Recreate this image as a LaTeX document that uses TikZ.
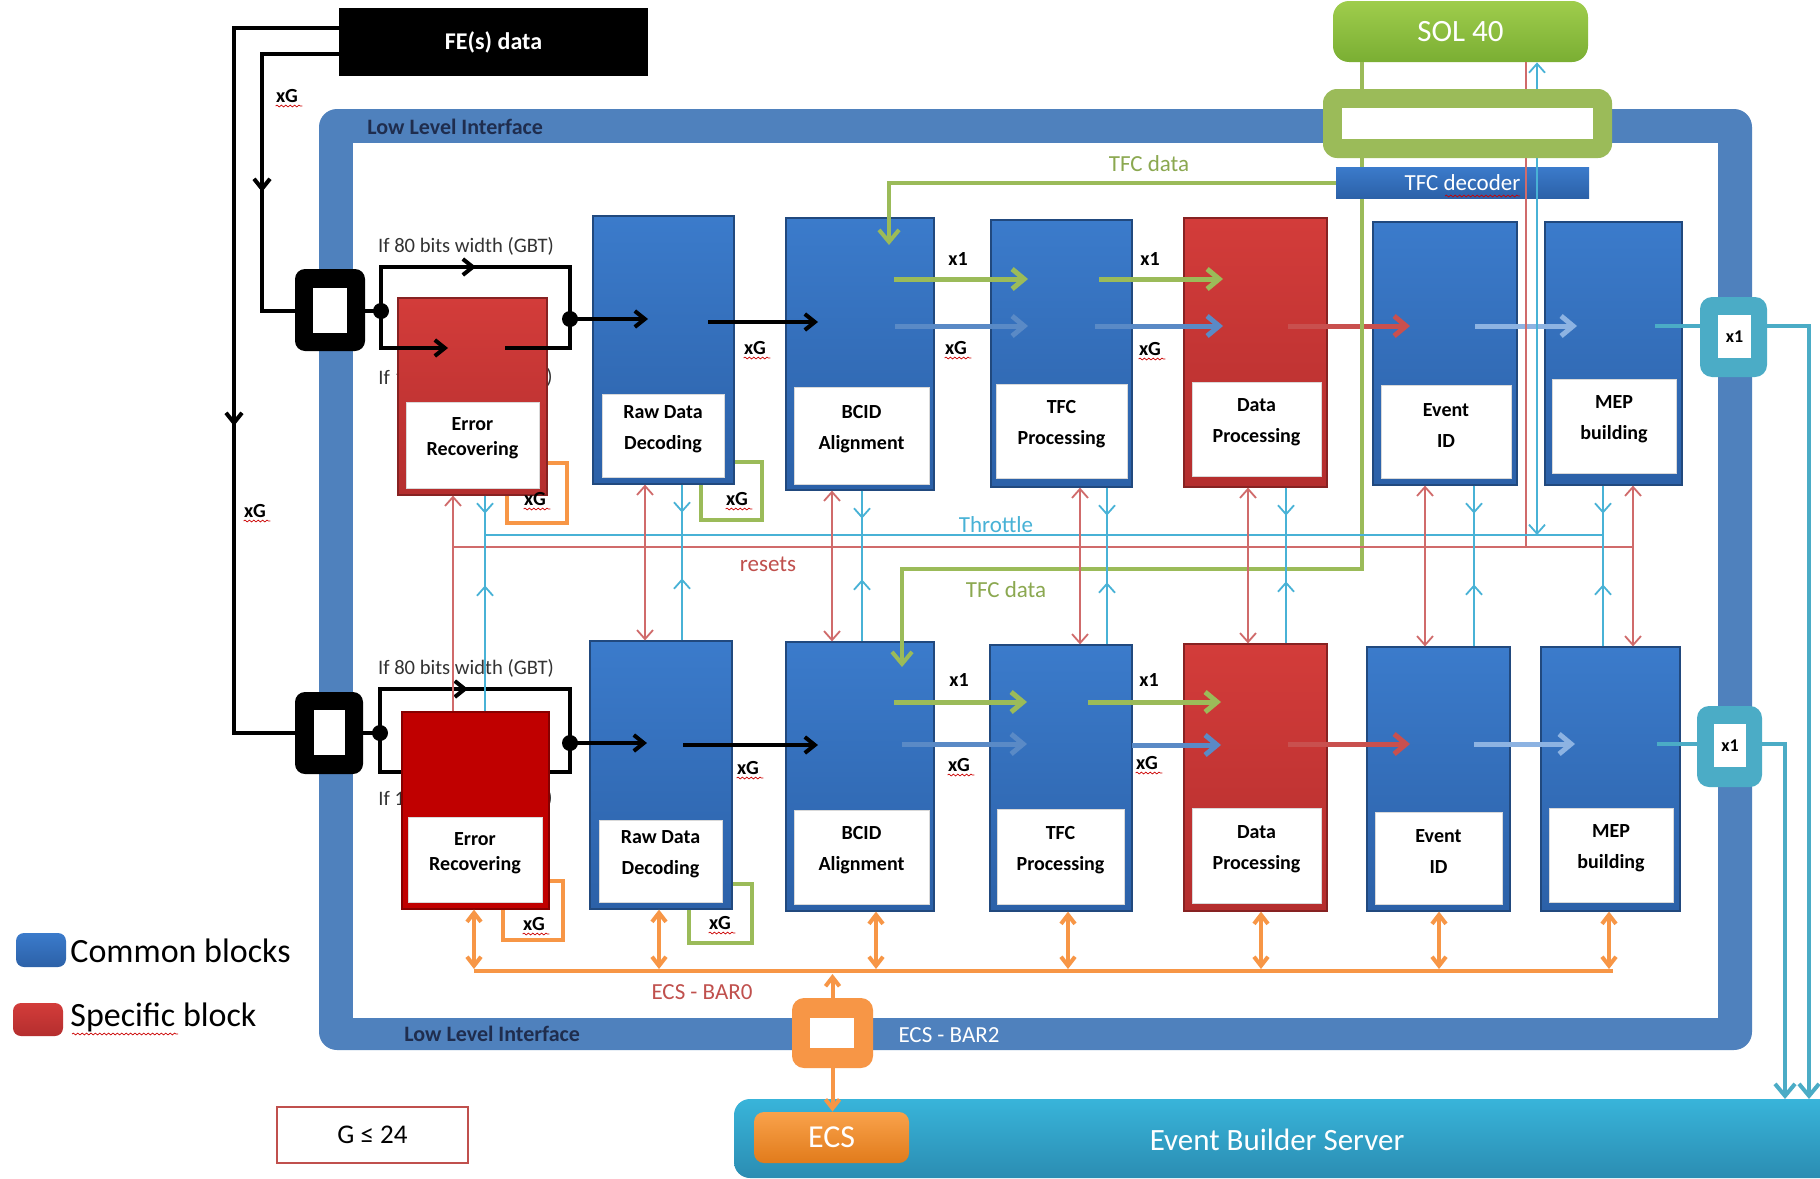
\documentclass[tikz,border=0pt]{standalone}
\usepackage{fontspec}
\setmainfont{Carlito}
\usetikzlibrary{arrows.meta,fit,decorations.pathmorphing,calc}
\definecolor{llblue}{HTML}{4F81BD}
\definecolor{navy}{HTML}{1F2D4E}
\definecolor{bTop}{HTML}{3B7BCB}
\definecolor{bBot}{HTML}{2C61A8}
\definecolor{rTop}{HTML}{D33C3A}
\definecolor{rBot}{HTML}{B42E2E}
\definecolor{dred}{HTML}{C00000}
\definecolor{tgreen}{HTML}{9BBB59}
\definecolor{sTop}{HTML}{9FCD4C}
\definecolor{sBot}{HTML}{7AAE33}
\definecolor{cyanb}{HTML}{4BACC6}
\definecolor{orng}{HTML}{F79646}
\definecolor{oTop}{HTML}{F9A24B}
\definecolor{oBot}{HTML}{E17B1B}
\definecolor{thinr}{HTML}{D06B6B}
\definecolor{thinc}{HTML}{48B2D6}
\definecolor{arrblue}{HTML}{5A8AC6}
\definecolor{arrred}{HTML}{C9504E}
\definecolor{arrlb}{HTML}{8DB3E2}
\definecolor{ebTop}{HTML}{38B4DA}
\definecolor{ebBot}{HTML}{2B8DB2}
\definecolor{txtred}{HTML}{C0504D}
\tikzset{
 blkB/.style={draw=bBot!75!black, line width=0.6pt, top color=bTop, bottom color=bBot, inner sep=0pt},
 blkR/.style={draw=rBot!75!black, line width=0.6pt, top color=rTop, bottom color=rBot, inner sep=0pt},
 blkD/.style={draw=dred!70!black, line width=0.6pt, fill=dred, inner sep=0pt},
 lab/.style={fill=white, draw=black!15, line width=0.4pt, inner sep=0pt, align=center, font=\bfseries\fontsize{10}{15.5}\selectfont},
 lsp/.style={font=\bfseries\fontsize{10}{12.5}\selectfont},
 xgs/.style={font=\bfseries\fontsize{10}{12}\selectfont, inner sep=0.5pt},
 spell/.style={draw=red!80!black, line width=0.35pt, decorate, decoration={snake, amplitude=0.45pt, segment length=2.2pt}},
 bk/.style={line width=2pt, draw=black},
 bv/.tip={Straight Barb[length=6pt, width=10pt]},
 kv/.tip={Straight Barb[length=5pt, width=8pt]},
 tv/.tip={Straight Barb[length=4.5pt, width=8pt]},
 ov/.tip={Straight Barb[length=4.5pt, width=7pt]},
 ga/.style={line width=2.5pt, draw=tgreen, -bv},
 ba/.style={line width=2.5pt, draw=arrblue, -bv},
 ra/.style={line width=2.5pt, draw=arrred, -bv},
 la/.style={line width=2.5pt, draw=arrlb, -bv},
 ca/.style={line width=2pt, draw=cyanb},
 thr/.style={line width=0.9pt, draw=thinr},
 thc/.style={line width=0.9pt, draw=thinc},
 orl/.style={line width=2pt, draw=orng},
 tl/.style={font=\fontsize{11.5}{13}\selectfont},
 gbt/.style={font=\fontsize{10.3}{12}\selectfont, text=black!80, inner sep=0pt},
 llt/.style={font=\bfseries\fontsize{11}{13}\selectfont, text=navy, inner sep=0pt},
}
\newcommand\mkblk[8]{%
  \node[#2, fit={#3 #4}] (#1) {};
  \node[lab, #7, fit={#5 #6}] (#1l) {#8};}
\newcommand\xgl[3]{%
  \node[xgs] (#1) at (#2,#3) {xG};
  \draw[spell] ($(#1.south west)+(1,2)$) -- ($(#1.south east)+(3,2)$);}
\begin{document}
\begin{tikzpicture}[x=0.5pt,y=-0.5pt]
\useasboundingbox (0,0) rectangle (1820,1178);
\fill[white] (0,0) rectangle (1820,1178);

% Low level interface frame
\fill[llblue, rounded corners=9pt] (319,109) rectangle (1752,1050);
\fill[white] (353,143) rectangle (1718,1018);
\node[llt, anchor=west] (llit) at (367,127) {Low Level Interface};
\node[llt, anchor=west] (llib) at (404,1034) {Low Level Interface};
\node[tl, text=white] (bar2t) at (949,1035) {ECS - BAR2};
\node[tl, text=txtred] (bar0t) at (702,992) {ECS - BAR0};

% xG brackets
\draw[orng, line width=1.6pt] (507,463) rectangle (567,523);
\draw[tgreen, line width=1.6pt] (701,462) rectangle (762,520);
\draw[orng, line width=1.6pt] (503,881) rectangle (563,940);
\draw[tgreen, line width=1.6pt] (689,884) rectangle (752,943);

% partly hidden labels
\node[gbt, anchor=west] (if1a) at (378,377) {If 1};
\node[gbt, anchor=west] (if1b) at (546,377) {)};
\node[gbt, anchor=west] (if2a) at (378,798) {If 1};
\node[gbt, anchor=west] (if2b) at (546,798) {)};
\node[gbt] (gbt1) at (466,246) {If 80 bits width (GBT)};
\node[gbt] (gbt2) at (466,668) {If 80 bits width (GBT)};

% input boxes
\node[fit={(295,269)(365,351)}, fill=black, rounded corners=5pt, inner sep=0pt] (in1) {};
\fill[white] (313,288) rectangle (347,333);
\node[fit={(295,692)(363,774)}, fill=black, rounded corners=5pt, inner sep=0pt] (in2) {};
\fill[white] (314,710) rectangle (345,755);

% bottom branch under the block
\draw[bk] (in2.east |- 0,733) -- (380,733);
\draw[bk] (380,689) -- (380,772) -- (570,772) -- (570,689) -- cycle;

% blocks top row
\mkblk{er1}{blkR}{(398,298)}{(547,495)}{(406,402)}{(539,488)}{lsp}{Error\\Recovering}
\mkblk{rdd1}{blkB}{(593,216)}{(734,484)}{(602,394)}{(724,477)}{}{Raw Data\\Decoding}
\mkblk{bcid1}{blkB}{(786,218)}{(934,490)}{(794,387)}{(929,484)}{}{BCID\\Alignment}
\mkblk{tfc1}{blkB}{(991,220)}{(1132,487)}{(996,384)}{(1127,478)}{}{TFC\\Processing}
\mkblk{dp1}{blkR}{(1184,218)}{(1327,487)}{(1192,382)}{(1321,476)}{}{Data\\Processing}
\mkblk{eid1}{blkB}{(1373,222)}{(1517,485)}{(1381,385)}{(1511,478)}{}{Event\\ID}
\mkblk{mep1}{blkB}{(1545,222)}{(1682,485)}{(1552,379)}{(1676,473)}{}{MEP\\building}
% blocks bottom row
\mkblk{er2}{blkD}{(402,712)}{(549,909)}{(408,817)}{(542,902)}{lsp}{Error\\Recovering}
\mkblk{rdd2}{blkB}{(590,641)}{(732,909)}{(599,820)}{(722,902)}{}{Raw Data\\Decoding}
\mkblk{bcid2}{blkB}{(786,642)}{(934,911)}{(794,810)}{(929,904)}{}{BCID\\Alignment}
\mkblk{tfc2}{blkB}{(990,645)}{(1132,911)}{(997,809)}{(1124,904)}{}{TFC\\Processing}
\mkblk{dp2}{blkR}{(1184,644)}{(1327,911)}{(1192,808)}{(1321,903)}{}{Data\\Processing}
\mkblk{eid2}{blkB}{(1367,647)}{(1510,911)}{(1375,812)}{(1502,904)}{}{Event\\ID}
\mkblk{mep2}{blkB}{(1541,647)}{(1680,911)}{(1549,808)}{(1673,902)}{}{MEP\\building}

% FE data
\node[fit={(339,8)(648,76)}, fill=black, inner sep=0pt] (fe) {};
\node[text=white, font=\bfseries\fontsize{12}{14}\selectfont] (fet) at (fe.center) {FE(s) data};
\draw[bk] (fe.west |- 0,28) -- (234,28) -- (234,733) -- (in2.west |- 0,733);
\draw[bk] (fe.west |- 0,54) -- (262,54) -- (262,311) -- (in1.west |- 0,311);
\draw[bk,-kv] (234,395) -- (234,426);
\draw[bk,-kv] (262,160) -- (262,192);

% top row data path
\draw[bk] (in1.east |- 0,311) -- (381,311) -- (381,267) -- (570,267) -- (570,348) -- (505,348);
\draw[bk,-kv] (381,311) -- (381,348) -- (448,348);
\draw[bk,-kv] (440,267) -- (476,267);
\fill (381,311) circle (4pt);
\fill (570,319) circle (4pt);
\draw[bk,-kv] (570,319) -- (648,319);
\draw[bk,-kv] (708,322) -- (818,322);
% bottom row data path
\draw[bk,-kv] (430,689) -- (468,689);
\fill (380,733) circle (4pt);
\fill (570,743) circle (4pt);
\draw[bk,-kv] (570,743) -- (647,743);
\draw[bk,-kv] (683,745) -- (818,745);

% coloured arrows top row
\draw[ga] (894,279) -- (1028,279);
\draw[ba] (895,326) -- (1028,326);
\draw[ga] (1099,279) -- (1223,279);
\draw[ba] (1095,326) -- (1223,326);
\draw[ra] (1288,326) -- (1410,326);
\draw[la] (1475,326) -- (1577,326);
% bottom row
\draw[ga] (894,702) -- (1027,702);
\draw[ba] (902,744) -- (1027,744);
\draw[ga] (1088,702) -- (1221,702);
\draw[ba] (1132,745) -- (1221,745);
\draw[ra] (1288,744) -- (1410,744);
\draw[la] (1474,744) -- (1575,744);

% labels
\xgl{xga}{287}{96}
\xgl{xgb}{255}{511}
\xgl{xgc}{755}{348}
\xgl{xgd}{956}{348}
\xgl{xge}{1150}{349}
\xgl{xgf}{535}{499}
\xgl{xgg}{737}{499}
\xgl{xgh}{534}{924}
\xgl{xgi}{720}{923}
\xgl{xgj}{748}{768}
\xgl{xgk}{959}{765}
\xgl{xgl}{1147}{763}
\node[xgs] (xa) at (958,259) {x1};
\node[xgs] (xb) at (1150,259) {x1};
\node[xgs] (xc) at (959,680) {x1};
\node[xgs] (xd) at (1149,680) {x1};

% SOL 40 / TFC
\node[fit={(1333,1)(1588,62)}, rounded corners=8pt, top color=sTop, bottom color=sBot, inner sep=0pt] (sol) {};
\node[text=white, font=\fontsize{15.5}{18}\selectfont] (solt) at (sol.center) {SOL 40};
\draw[line width=2pt, tgreen, -bv] (1362,0 |- sol.south) -- (1362,569) -- (902,569) -- (902,667);
\node[fit={(1336,167)(1589,198)}, top color=bTop, bottom color=bBot, inner sep=0pt] (dec) {};
\node[text=white, font=\fontsize{11.5}{13}\selectfont] (dect) at (dec.center) {TFC decoder};
\draw[spell] (1445,196) -- (1520,196);
\draw[line width=2pt, tgreen, -bv] (dec.west) -- (889,0 |- dec.west) -- (889,245);
\node[tl, text=tgreen!90!black] (tfcd1) at (1149,164) {TFC data};
\node[tl, text=tgreen!90!black] (tfcd2) at (1006,590) {TFC data};
\draw[thr] (1526,0 |- sol.south) -- (1526,547);
\draw[thc, tv-tv] (1537,535) -- (1537,0 |- sol.south);
\node[fit={(1323,89)(1612,158)}, fill=tgreen, rounded corners=7pt, inner sep=0pt] (ring) {};
\fill[white] (1342,108) rectangle (1593,139);

% throttle and resets
\draw[thc] (485,535) -- (1603,535);
\draw[thr] (453,547) -- (1633,547);
\node[tl, text=thinc] (thrt) at (996,525) {Throttle};
\node[tl, text=txtred] (rest) at (768,564) {resets};
\draw[thr, -tv] (453,0 |- er2.north) -- (453,0 |- er1.south);
\draw[thc] (485,0 |- er1.south) -- (485,0 |- er2.north);
\draw[thc, -tv] (485,0 |- er1.south) -- ++(0,18);
\draw[thc, -tv] (485,0 |- er2.north) -- ++(0,-126);
\foreach \r/\c/\t/\b in {645/682/rdd1/rdd2, 832/862/bcid1/bcid2, 1080/1107/tfc1/tfc2, 1248/1286/dp1/dp2, 1425/1474/eid1/eid2, 1633/1603/mep1/mep2}{
  \draw[thr, tv-tv] (\r,0 |- \t.south) -- (\r,0 |- \b.north);
  \draw[thc] (\c,0 |- \t.south) -- (\c,0 |- \b.north);
  \draw[thc, -tv] (\c,0 |- \t.south) -- ++(0,28);
  \draw[thc, -tv] (\c,0 |- \b.north) -- ++(0,-62);
}

% ECS bus
\draw[orl] (474,971) -- (1613,971);
\foreach \x/\b in {474/er2, 659/rdd2, 876/bcid2, 1068/tfc2, 1261/dp2, 1439/eid2, 1609/mep2}{
  \draw[orl, ov-ov] (\x,0 |- \b.south) -- (\x,969);
}
\node[fit={(792,998)(873,1068)}, fill=orng, rounded corners=6pt, inner sep=0pt] (bar2) {};
\fill[white] (810,1018) rectangle (854,1048);

% event builder server
\shade[top color=ebTop, bottom color=ebBot, rounded corners=8pt] (734,1099) rectangle (1860,1178);
\coordinate (ebtop) at (1300,1099);
\node[font=\fontsize{15.5}{18}\selectfont, text=white] (ebs) at (1277,1140) {Event Builder Server};
\node[fit={(754,1112)(909,1163)}, rounded corners=5pt, top color=oTop, bottom color=oBot, inner sep=0pt] (ecs) {};
\node[text=white, font=\fontsize{16}{18}\selectfont] (ecst) at (ecs.center) {ECS};
\draw[orl, -ov] (bar2.south) -- (bar2.south |- ecs.north);
\draw[orl, -ov] (bar2.north) -- (bar2.north |- 0,974);

% x1 output boxes
\draw[ca] (1655,326) -- (1700,326);
\draw[ca] (1657,744) -- (1697,744);
\node[fit={(1700,297)(1767,377)}, fill=cyanb, rounded corners=6pt, inner sep=0pt] (xo1) {};
\node[fit={(1718,315)(1751,358)}, fill=white, inner sep=0pt] (xo1i) {};
\node[font=\bfseries\fontsize{9}{11}\selectfont] (xo1t) at (xo1i.center) {x1};
\node[fit={(1697,706)(1762,787)}, fill=cyanb, rounded corners=6pt, inner sep=0pt] (xo2) {};
\node[fit={(1714,724)(1746,767)}, fill=white, inner sep=0pt] (xo2i) {};
\node[font=\bfseries\fontsize{9}{11}\selectfont] (xo2t) at (xo2i.center) {x1};
\draw[ca, -bv] (xo1.east |- 0,326) -- (1809,326) -- (1809,0 |- ebtop);
\draw[ca, -bv] (xo2.east |- 0,744) -- (1785,744) -- (1785,0 |- ebtop);

% legend
\node[fit={(16,933)(66,967)}, rounded corners=4pt, top color=bTop, bottom color=bBot, inner sep=0pt] (lgb) {};
\node[anchor=west, inner sep=0pt, font=\fontsize{17}{20}\selectfont] (lgbt) at (70,951) {Common blocks};
\node[fit={(13,1003)(63,1036)}, rounded corners=4pt, top color=rTop, bottom color=rBot, inner sep=0pt] (lgr) {};
\node[anchor=west, inner sep=0pt, font=\fontsize{17}{20}\selectfont] (lgrt) at (70,1017) {Specific block};
\draw[spell] (72,1034) -- (178,1034);
\node[fit={(277,1107)(468,1163)}, draw=txtred, line width=1.2pt, fill=white, inner sep=0pt] (gbox) {};
\node[font=\fontsize{13.5}{16}\selectfont] (gboxt) at (gbox.center) {G ≤ 24};
\end{tikzpicture}
\end{document}
